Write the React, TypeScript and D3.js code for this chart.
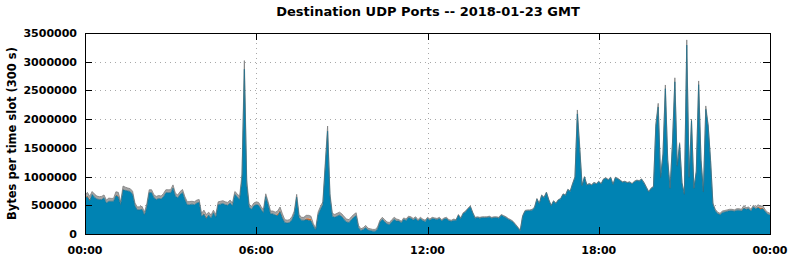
import React from 'react';
import * as d3 from 'd3';

// bytes per 5-minute slot, in thousands, 2018-01-23 00:00 .. 24:00 GMT (289 slots)
const blueK = [
  630, 650, 580, 690, 640, 610, 600, 600, 630, 540, 570, 570,
  570, 670, 650, 510, 770, 760, 750, 740, 690, 490, 420, 420,
  430, 330, 470, 720, 720, 630, 600, 620, 610, 650, 720, 720,
  720, 800, 660, 630, 690, 720, 600, 510, 510, 520, 510, 540,
  550, 310, 350, 270, 330, 280, 370, 290, 510, 520, 530, 510,
  500, 540, 490, 690, 650, 600, 950, 2870, 850, 470, 430, 490,
  510, 500, 430, 370, 650, 510, 350, 350, 330, 320, 390, 280,
  200, 190, 200, 250, 350, 640, 290, 240, 240, 250, 240, 230,
  140, 70, 330, 430, 510, 1150, 1790, 650, 310, 290, 310, 330,
  300, 250, 210, 200, 250, 290, 320, 110, 60, 80, 110, 70,
  60, 50, 50, 85, 205, 255, 215, 175, 165, 215, 255, 225,
  225, 195, 255, 235, 285, 275, 245, 275, 225, 265, 235, 215,
  270, 240, 270, 260, 250, 270, 230, 260, 270, 230, 220, 240,
  235, 325, 265, 355, 385, 435, 475, 365, 275, 285, 275, 285,
  285, 285, 295, 275, 285, 285, 275, 325, 305, 285, 255, 235,
  205, 155, 105, 55, 305, 395, 405, 405, 415, 455, 605, 525,
  670, 630, 720, 590, 490, 570, 530, 590, 610, 690, 670, 770,
  740, 870, 980, 2090, 1470, 840, 990, 850, 870, 850, 890, 870,
  910, 870, 950, 970, 940, 980, 860, 980, 960, 930, 900, 910,
  890, 900, 870, 910, 930, 920, 950, 890, 810, 730, 790, 820,
  1870, 2210, 980, 1380, 2530, 1280, 790, 1580, 2650, 1180, 1560, 880,
  690, 3290, 980, 1970, 790, 1080, 2600, 1280, 730, 2170, 1880, 1280,
  515, 405, 355, 335, 375, 385, 395, 405, 405, 395, 415, 415,
  400, 450, 430, 440, 400, 470, 440, 460, 430, 440, 390, 350,
  330,
];

const grayK = [
  50, 55, 50, 50, 55, 50, 50, 55, 50, 50, 55, 50,
  50, 50, 55, 50, 50, 55, 50, 50, 55, 50, 50, 55,
  50, 50, 55, 50, 50, 50, 55, 50, 50, 55, 50, 50,
  50, 55, 50, 50, 50, 55, 50, 50, 55, 50, 50, 50,
  50, 50, 45, 50, 50, 50, 45, 50, 50, 50, 50, 50,
  50, 50, 50, 50, 50, 50, 60, 90, 50, 50, 50, 50,
  50, 50, 50, 50, 50, 50, 50, 50, 50, 50, 50, 50,
  50, 50, 50, 50, 50, 50, 50, 50, 50, 50, 50, 50,
  40, 30, 50, 50, 50, 50, 50, 50, 50, 50, 50, 50,
  50, 50, 50, 50, 50, 50, 50, 40, 30, 30, 40, 30,
  30, 30, 30, 35, 35, 35, 35, 35, 35, 35, 35, 35,
  25, 25, 25, 25, 25, 25, 25, 25, 25, 25, 25, 25,
  20, 20, 20, 20, 20, 20, 20, 20, 20, 20, 20, 20,
  15, 15, 15, 15, 15, 15, 15, 15, 15, 15, 15, 15,
  15, 15, 15, 15, 15, 15, 15, 15, 15, 15, 15, 15,
  15, 15, 15, 15, 15, 15, 15, 15, 15, 15, 15, 15,
  10, 10, 10, 10, 10, 10, 10, 10, 10, 10, 10, 10,
  10, 10, 20, 40, 30, 10, 10, 10, 10, 10, 10, 10,
  10, 10, 10, 10, 10, 10, 10, 10, 10, 10, 10, 10,
  10, 10, 10, 10, 10, 10, 10, 10, 10, 10, 10, 10,
  30, 35, 20, 20, 35, 20, 10, 20, 40, 20, 30, 20,
  10, 50, 20, 30, 10, 20, 35, 20, 10, 30, 20, 20,
  25, 25, 25, 25, 25, 25, 25, 25, 25, 25, 25, 25,
  30, 30, 30, 30, 30, 30, 30, 30, 30, 30, 30, 30,
  30,
];

// sparse small series: [slot, thousands]
const orangeSpots = [
  [1, 20], [2, 25], [13, 15], [14, 20], [16, 15], [50, 20], [51, 20],
  [81, 30], [82, 30], [83, 20], [93, 25], [94, 35], [95, 30],
  [277, 15], [283, 20], [284, 25], [285, 20],
];
const greenSpots = [
  [66, 30], [67, 60], [68, 40], [101, 30], [102, 40], [207, 30], [208, 30],
  [240, 20], [241, 30], [244, 30], [248, 30], [253, 40], [258, 30], [261, 30],
];

const yTicks = [0, 500000, 1000000, 1500000, 2000000, 2500000, 3000000, 3500000];
const title = 'Destination UDP Ports -- 2018-01-23 GMT';
const yLabel = 'Bytes per time slot (300 s)';

const W = 792;
const H = 259;
const M = { left: 85, right: 770, top: 33, bottom: 234 };
const FONT = '"DejaVu Sans", sans-serif';

const t0 = Date.UTC(2018, 0, 23);

export default function App() {
  const rows = blueK.map((b, i) => {
    const o = orangeSpots.find((s) => s[0] === i);
    const g = greenSpots.find((s) => s[0] === i);
    return {
      t: new Date(t0 + i * 300000),
      blue: b * 1000,
      green: (g ? g[1] : 0) * 1000,
      orange: (o ? o[1] : 0) * 1000,
      gray: grayK[i] * 1000,
    };
  });

  const keys = ['blue', 'green', 'orange', 'gray'];
  const fills = { blue: '#0083b3', green: '#8b9a2e', orange: '#e2641c', gray: '#a3a3a3' };

  const series = d3.stack().keys(keys)(rows as any);

  const x = d3
    .scaleUtc()
    .domain([new Date(t0), new Date(t0 + 24 * 3600000)])
    .range([M.left, M.right]);
  const y = d3.scaleLinear().domain([0, 3500000]).range([M.bottom, M.top]);

  const area = d3
    .area<any>()
    .x((d) => x(d.data.t))
    .y0((d) => y(d[0]))
    .y1((d) => y(d[1]));
  const topLine = d3
    .line<any>()
    .x((d) => x(d.data.t))
    .y((d) => y(d[1]));

  const xTicks = x.ticks(d3.utcHour.every(6) as any);
  const fmt = d3.utcFormat('%H:%M');

  const blueS = series.find((s) => s.key === 'blue')!;
  const grayS = series.find((s) => s.key === 'gray')!;

  return (
    <div style={{ position: 'fixed', left: 0, top: 0 }}>
      <svg width={W} height={H} style={{ display: 'block', background: '#fff' }}>
        <text
          x={428}
          y={16}
          textAnchor="middle"
          fontFamily={FONT}
          fontWeight="bold"
          fontSize={13}
          fill="#000"
        >
          {title}
        </text>

        {/* grid */}
        <g stroke="#a8a8a8" strokeWidth={1} strokeDasharray="1,4">
          {yTicks.slice(1, -1).map((v) => (
            <line key={v} x1={M.left} x2={M.right} y1={Math.round(y(v)) + 0.5} y2={Math.round(y(v)) + 0.5} />
          ))}
          {xTicks.slice(1, -1).map((d) => (
            <line key={+d} x1={Math.round(x(d)) + 0.5} x2={Math.round(x(d)) + 0.5} y1={M.top} y2={M.bottom} />
          ))}
        </g>

        {/* stacked areas */}
        {series.map((s) => (
          <path key={s.key} d={area(s) || ''} fill={(fills as any)[s.key]} stroke="none" />
        ))}
        <path d={topLine(grayS) || ''} fill="none" stroke="#7d7d7d" strokeWidth={0.8} />
        <path d={topLine(blueS) || ''} fill="none" stroke="#1d6d8a" strokeWidth={0.7} />

        {/* frame and ticks */}
        <g stroke="#000" strokeWidth={1} shapeRendering="crispEdges">
          <rect
            x={M.left + 0.5}
            y={M.top + 0.5}
            width={M.right - M.left}
            height={M.bottom - M.top}
            fill="none"
          />
          {yTicks.map((v) => (
            <g key={v}>
              <line x1={M.left} x2={M.left + 7} y1={Math.round(y(v)) + 0.5} y2={Math.round(y(v)) + 0.5} />
              <line x1={M.right - 7} x2={M.right} y1={Math.round(y(v)) + 0.5} y2={Math.round(y(v)) + 0.5} />
            </g>
          ))}
          {xTicks.map((d) => (
            <g key={+d}>
              <line x1={Math.round(x(d)) + 0.5} x2={Math.round(x(d)) + 0.5} y1={M.top} y2={M.top + 7} />
              <line x1={Math.round(x(d)) + 0.5} x2={Math.round(x(d)) + 0.5} y1={M.bottom - 7} y2={M.bottom} />
            </g>
          ))}
        </g>

        {/* tick labels */}
        <g fontFamily={FONT} fontWeight="bold" fontSize={11} fill="#000">
          {yTicks.map((v) => (
            <text key={v} x={77} y={y(v)} dy="0.36em" textAnchor="end">
              {v}
            </text>
          ))}
          {xTicks.map((d) => (
            <text key={+d} x={x(d)} y={254} textAnchor="middle">
              {fmt(d)}
            </text>
          ))}
        </g>

        <text
          transform={`translate(16,${(M.top + M.bottom) / 2}) rotate(-90)`}
          textAnchor="middle"
          fontFamily={FONT}
          fontWeight="bold"
          fontSize={11.5}
          fill="#000"
        >
          {yLabel}
        </text>
      </svg>
    </div>
  );
}
